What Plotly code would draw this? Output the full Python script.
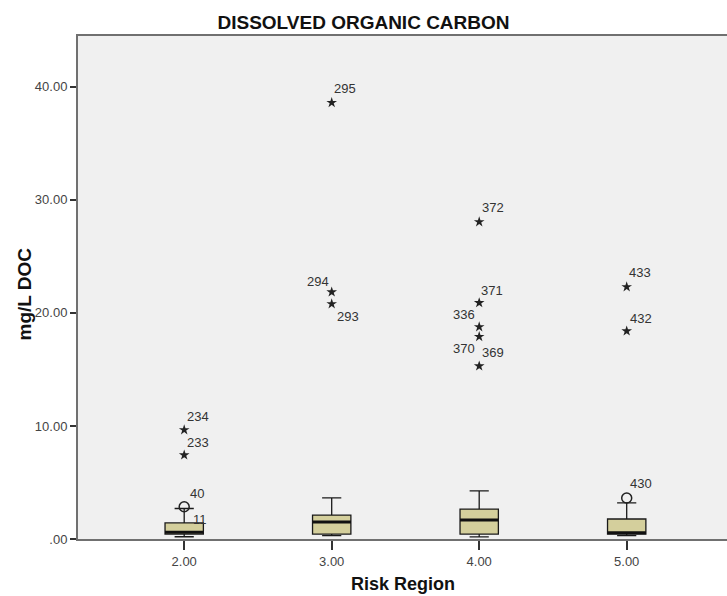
import plotly.graph_objects as go

# ---- data ----
regions = [2.0, 3.0, 4.0, 5.0]
tick_labels = ["2.00", "3.00", "4.00", "5.00"]
lower_fence = [0.20, 0.30, 0.18, 0.30]
q1 = [0.44, 0.44, 0.44, 0.44]
median = [0.60, 1.50, 1.68, 0.55]
q3 = [1.42, 2.12, 2.65, 1.77]
upper_fence = [2.70, 3.63, 4.25, 3.19]

# extreme values (stars)
star_x = [2.0, 2.0, 3.0, 3.0, 3.0, 4.0, 4.0, 4.0, 4.0, 4.0, 5.0, 5.0]
star_y = [9.65, 7.43, 38.6, 21.85, 20.8, 28.05, 20.9, 18.76, 17.9, 15.3, 22.3, 18.4]
star_ids = ["234", "233", "295", "294", "293", "372", "371", "336", "370", "369", "433", "432"]
star_dx = [14, 14, 13, -14, 16, 14, 13, -15, -15, 14, 13, 14]
star_dy = [-13, -13, -14, -11, 13, -14, -12, -12, 12, -14, -14, -13]

# mild outliers (circles)
circ_x = [2.0, 5.0]
circ_y = [2.85, 3.63]
circ_ids = ["40", "430"]
circ_dx = [13, 14]
circ_dy = [-13, -14]

# label without a visible marker
extra_x = [2.0]
extra_y = [0.60]
extra_ids = ["11"]
extra_dx = [16]
extra_dy = [-13]

yticks = [0, 10, 20, 30, 40]
ytick_text = [".00", "10.00", "20.00", "30.00", "40.00"]

BOX_W = 0.26
FONT = "Liberation Sans, Arial"
fig = go.Figure()

fig.add_trace(go.Box(
    x=regions, q1=q1, median=median, q3=q3,
    lowerfence=lower_fence, upperfence=upper_fence,
    width=BOX_W, whiskerwidth=0.5,
    fillcolor="rgb(212,207,156)",
    line=dict(color="#1a1a1a", width=1.3),
    boxpoints=False, showlegend=False, hoverinfo="skip",
))

# thick median lines
mx, my = [], []
for xv, mv in zip(regions, median):
    mx += [xv - BOX_W / 2, xv + BOX_W / 2, None]
    my += [mv, mv, None]
fig.add_trace(go.Scatter(x=mx, y=my, mode="lines",
                         line=dict(color="#111111", width=3),
                         showlegend=False, hoverinfo="skip"))

fig.add_trace(go.Scatter(x=star_x, y=star_y, mode="markers",
                         marker=dict(symbol="star", size=8, color="#222222"),
                         showlegend=False, hoverinfo="skip"))
fig.add_trace(go.Scatter(x=circ_x, y=circ_y, mode="markers",
                         marker=dict(symbol="circle-open", size=10,
                                     color="#222222", line=dict(width=1.5)),
                         showlegend=False, hoverinfo="skip"))

lab_font = dict(family=FONT, size=13, color="#333333")
for xs, ys, ids, dxs, dys in [(star_x, star_y, star_ids, star_dx, star_dy),
                              (circ_x, circ_y, circ_ids, circ_dx, circ_dy),
                              (extra_x, extra_y, extra_ids, extra_dx, extra_dy)]:
    for xv, yv, t, dx, dy in zip(xs, ys, ids, dxs, dys):
        fig.add_annotation(x=xv, y=yv, text=t, showarrow=False,
                           xshift=dx, yshift=-dy, font=lab_font)

fig.add_annotation(xref="paper", yref="paper", x=0.5, y=-0.0895,
                   xanchor="center", yanchor="middle",
                   text="<b>Risk Region</b>", showarrow=False,
                   font=dict(family=FONT, size=18, color="#111111"))
fig.add_annotation(xref="paper", yref="paper", x=-0.0817, y=0.488,
                   xanchor="center", yanchor="middle",
                   text="<b>mg/L DOC</b>", showarrow=False, textangle=-90,
                   font=dict(family=FONT, size=19, color="#111111"))

fig.update_layout(
    width=727, height=596,
    margin=dict(l=78, r=0, t=36, b=57),
    paper_bgcolor="white", plot_bgcolor="#f0f0f0",
    title=dict(text="<b>DISSOLVED ORGANIC CARBON</b>", x=0.5, xanchor="center",
               y=1 - 22 / 596, yanchor="middle",
               font=dict(family=FONT, size=19, color="#111111")),
    xaxis=dict(range=[1.28, 5.68], tickvals=regions, ticktext=tick_labels,
               showgrid=False, zeroline=False, showline=True, mirror=True,
               linecolor="#707070", linewidth=2, ticks="outside", ticklen=9,
               tickcolor="#333333", tickwidth=2,
               tickfont=dict(family=FONT, size=13, color="#444444")),
    yaxis=dict(range=[0, 44.5], tickvals=yticks, ticktext=ytick_text,
               showgrid=False, zeroline=False, showline=True, mirror=False,
               linecolor="#707070", linewidth=2, ticks="outside", ticklen=6,
               tickcolor="#333333", tickwidth=2,
               tickfont=dict(family=FONT, size=13, color="#444444")),
)

fig.write_html("out.html")
